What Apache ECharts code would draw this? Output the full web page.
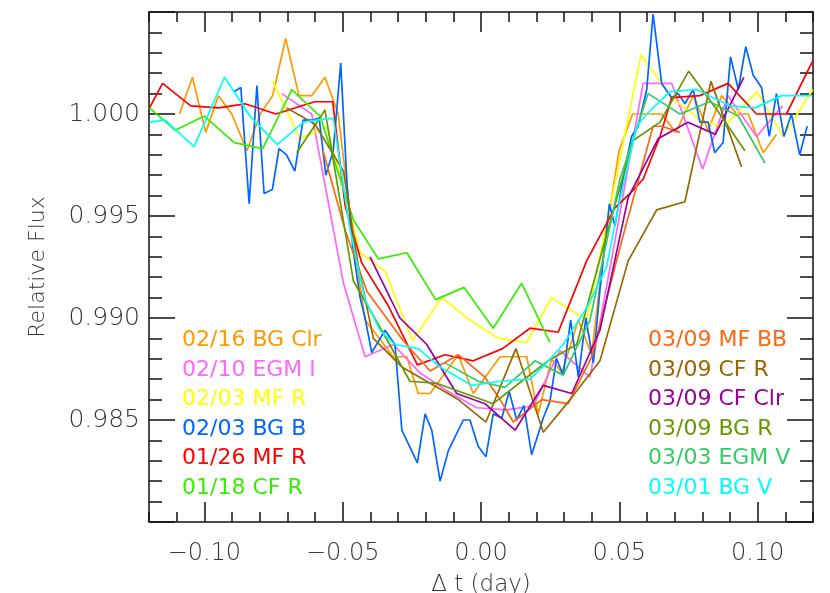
<!DOCTYPE html>
<html>
<head>
<meta charset="utf-8">
<script src="https://cdn.jsdelivr.net/npm/echarts@6/dist/echarts.min.js"></script>
<style>
  html, body { margin: 0; padding: 0; background: #fff; }
  #chart { width: 830px; height: 593px; }
</style>
</head>
<body>
<div id="chart"></div>
<script>
// light curves: [dt (day), relative flux]
const bgClr0216 = [[-0.1090, 1.0000], [-0.1043, 1.0018], [-0.0995, 0.9991], [-0.0949, 1.0009], [-0.0901, 1.0000], [-0.0846, 0.9982], [-0.0798, 1.0000], [-0.0753, 1.0009], [-0.0706, 1.0037], [-0.0658, 1.0009], [-0.0612, 1.0009], [-0.0564, 1.0018], [-0.0516, 1.0000], [-0.0466, 0.9943], [-0.0419, 0.9899], [-0.0317, 0.9881], [-0.0268, 0.9881], [-0.0227, 0.9863], [-0.0184, 0.9863], [-0.0082, 0.9882], [-0.0028, 0.9863], [0.0069, 0.9881], [0.0165, 0.9881], [0.0207, 0.9853], [0.0255, 0.9880], [0.0292, 0.9873], [0.0352, 0.9899], [0.0400, 0.9882], [0.0448, 0.9938], [0.0499, 0.9982], [0.0548, 1.0000], [0.0653, 1.0000], [0.0704, 0.9991], [0.0767, 1.0009], [0.0821, 0.9992], [0.0870, 1.0009], [0.0924, 1.0000], [0.0966, 1.0000], [0.1020, 0.9981], [0.1068, 0.9990]];
const egmI0210 = [[-0.0720, 1.0010], [-0.0612, 1.0000], [-0.0497, 0.9917], [-0.0419, 0.9881], [-0.0317, 0.9887], [-0.0220, 0.9873], [-0.0119, 0.9864], [-0.0016, 0.9856], [0.0093, 0.9855], [0.0189, 0.9857], [0.0285, 0.9884], [0.0394, 0.9871], [0.0491, 0.9943], [0.0586, 1.0015], [0.0689, 1.0015], [0.0801, 0.9973], [0.0893, 1.0009], [0.0996, 0.9989], [0.1090, 1.0004]];
const mfR0203 = [[-0.0753, 1.0016], [-0.0654, 0.9988], [-0.0557, 0.9994], [-0.0437, 0.9932], [-0.0347, 0.9923], [-0.0247, 0.9889], [-0.0142, 0.9910], [-0.0040, 0.9899], [0.0063, 0.9890], [0.0165, 0.9888], [0.0255, 0.9910], [0.0382, 0.9899], [0.0480, 0.9963], [0.0578, 1.0029], [0.0689, 1.0008], [0.0803, 0.9996], [0.0882, 0.9994], [0.0998, 1.0011], [0.1092, 0.9989], [0.1199, 1.0012]];
const bgB0203 = [[-0.0892, 1.0011], [-0.0868, 1.0013], [-0.0838, 0.9956], [-0.0810, 1.0014], [-0.0784, 0.9961], [-0.0754, 0.9963], [-0.0730, 0.9983], [-0.0703, 0.9980], [-0.0673, 0.9972], [-0.0643, 0.9997], [-0.0609, 0.9997], [-0.0585, 0.9998], [-0.0561, 0.9970], [-0.0534, 0.9982], [-0.0507, 1.0025], [-0.0484, 0.9965], [-0.0462, 0.9933], [-0.0437, 0.9910], [-0.0419, 0.9900], [-0.0395, 0.9883], [-0.0347, 0.9894], [-0.0311, 0.9887], [-0.0286, 0.9845], [-0.0230, 0.9829], [-0.0202, 0.9853], [-0.0178, 0.9845], [-0.0148, 0.9820], [-0.0118, 0.9835], [-0.0064, 0.9850], [-0.0040, 0.9850], [-0.0010, 0.9837], [0.0018, 0.9832], [0.0044, 0.9853], [0.0075, 0.9851], [0.0102, 0.9864], [0.0129, 0.9850], [0.0155, 0.9857], [0.0183, 0.9833], [0.0225, 0.9851], [0.0249, 0.9859], [0.0273, 0.9880], [0.0297, 0.9872], [0.0324, 0.9899], [0.0352, 0.9871], [0.0379, 0.9900], [0.0406, 0.9878], [0.0430, 0.9914], [0.0454, 0.9943], [0.0464, 0.9956], [0.0484, 0.9945], [0.0513, 0.9968], [0.0544, 0.9989], [0.0568, 0.9994], [0.0599, 1.0012], [0.0622, 1.0049], [0.0653, 1.0015], [0.0689, 1.0008], [0.0713, 1.0010], [0.0737, 1.0005], [0.0767, 1.0012], [0.0791, 0.9996], [0.0821, 0.9996], [0.0845, 0.9981], [0.0875, 0.9986], [0.0902, 1.0028], [0.0930, 1.0012], [0.0957, 1.0033], [0.0984, 1.0019], [0.1014, 1.0013], [0.1042, 0.9989], [0.1068, 1.0010], [0.1095, 0.9989], [0.1122, 1.0000], [0.1152, 0.9980], [0.1179, 0.9994]];
const mfR0126 = [[-0.1198, 1.0003], [-0.1151, 1.0015], [-0.1049, 1.0004], [-0.0949, 1.0003], [-0.0853, 1.0005], [-0.0741, 1.0000], [-0.0602, 1.0006], [-0.0536, 1.0006], [-0.0491, 0.9955], [-0.0431, 0.9927], [-0.0335, 0.9906], [-0.0230, 0.9877], [-0.0130, 0.9882], [-0.0028, 0.9879], [0.0078, 0.9885], [0.0177, 0.9895], [0.0279, 0.9893], [0.0382, 0.9928], [0.0484, 0.9954], [0.0538, 0.9961], [0.0586, 0.9968], [0.0647, 0.9989], [0.0689, 1.0008], [0.0791, 1.0009], [0.0893, 1.0015], [0.0996, 1.0000], [0.1104, 1.0000], [0.1199, 1.0026]];
const cfR0118 = [[-0.1198, 1.0003], [-0.1105, 0.9992], [-0.1000, 0.9999], [-0.0892, 0.9986], [-0.0789, 0.9983], [-0.0684, 1.0012], [-0.0582, 0.9999], [-0.0461, 0.9948], [-0.0371, 0.9929], [-0.0268, 0.9932], [-0.0164, 0.9909], [-0.0061, 0.9915], [0.0044, 0.9895], [0.0147, 0.9917], [0.0249, 0.9888]];
const mfBB0309 = [[-0.0571, 0.9982], [-0.0491, 0.9943], [-0.0412, 0.9913], [-0.0336, 0.9899], [-0.0282, 0.9889], [-0.0184, 0.9874], [-0.0082, 0.9882], [0.0014, 0.9871], [0.0069, 0.9860], [0.0117, 0.9849], [0.0219, 0.9860], [0.0315, 0.9858], [0.0400, 0.9881], [0.0509, 0.9938], [0.0622, 0.9994], [0.0653, 0.9994], [0.0719, 0.9991]];
const cfR0309 = [[-0.0702, 1.0003], [-0.0600, 0.9995], [-0.0497, 0.9972], [-0.0444, 0.9926], [-0.0389, 0.9890], [-0.0286, 0.9876], [-0.0184, 0.9868], [-0.0082, 0.9860], [0.0018, 0.9849], [0.0126, 0.9885], [0.0225, 0.9844], [0.0322, 0.9860], [0.0430, 0.9879], [0.0532, 0.9928], [0.0635, 0.9953], [0.0737, 0.9957], [0.0831, 1.0016], [0.0942, 0.9974]];
const cfClr0309 = [[-0.0401, 0.9930], [-0.0293, 0.9900], [-0.0196, 0.9887], [-0.0088, 0.9863], [0.0014, 0.9858], [0.0123, 0.9845], [0.0225, 0.9867], [0.0328, 0.9863], [0.0430, 0.9894], [0.0532, 0.9959], [0.0641, 0.9988], [0.0748, 0.9996], [0.0847, 0.9990], [0.0950, 1.0018]];
const bgR0309 = [[-0.0666, 0.9981], [-0.0564, 1.0002], [-0.0461, 0.9918], [-0.0359, 0.9894], [-0.0257, 0.9869], [-0.0160, 0.9868], [-0.0058, 0.9863], [0.0044, 0.9858], [0.0147, 0.9869], [0.0242, 0.9879], [0.0346, 0.9887], [0.0448, 0.9938], [0.0550, 0.9987], [0.0647, 0.9996], [0.0751, 1.0021], [0.0853, 1.0002], [0.0954, 0.9982]];
const egmV0303 = [[-0.0130, 0.9878], [-0.0010, 0.9869], [0.0087, 0.9866], [0.0195, 0.9879], [0.0297, 0.9872], [0.0394, 0.9899], [0.0502, 0.9968], [0.0604, 1.0010], [0.0719, 1.0000], [0.0827, 1.0006], [0.0930, 0.9999], [0.1026, 0.9976]];
const bgV0301 = [[-0.1198, 0.9996], [-0.1142, 0.9997], [-0.1037, 0.9984], [-0.0927, 1.0018], [-0.0835, 0.9999], [-0.0736, 0.9985], [-0.0642, 0.9996], [-0.0594, 0.9997], [-0.0534, 0.9998], [-0.0473, 0.9943], [-0.0419, 0.9909], [-0.0365, 0.9894], [-0.0311, 0.9887], [-0.0227, 0.9885], [-0.0148, 0.9876], [-0.0034, 0.9867], [0.0069, 0.9869], [0.0177, 0.9870], [0.0237, 0.9878], [0.0297, 0.9887], [0.0382, 0.9905], [0.0454, 0.9925], [0.0502, 0.9958], [0.0563, 0.9994], [0.0599, 1.0000], [0.0683, 1.0011], [0.0779, 1.0012], [0.0839, 1.0008], [0.0900, 1.0004], [0.0990, 1.0003], [0.1086, 1.0009], [0.1195, 1.0009]];

const seriesNames = ["02/16 BG Clr", "02/10 EGM I", "02/03 MF R", "02/03 BG B", "01/26 MF R", "01/18 CF R",
  "03/09 MF BB", "03/09 CF R", "03/09 CF Clr", "03/09 BG R", "03/03 EGM V", "03/01 BG V"];
const seriesData = [bgClr0216, egmI0210, mfR0203, bgB0203, mfR0126, cfR0118,
  mfBB0309, cfR0309, cfClr0309, bgR0309, egmV0303, bgV0301];
const colors = ["#ff9900", "#ff66ff", "#ffff00", "#0066ff", "#ff0000", "#33ee00",
  "#ff6611", "#996600", "#990099", "#669900", "#33cc66", "#00ffff"];

const xMajorTicks = [-0.10, -0.05, 0.00, 0.05, 0.10];

const font = "DejaVu Sans";
const textColor = "#333";
const axisColor = "#111";

const chart = echarts.init(document.getElementById("chart"), null, { renderer: "canvas" });

function xAxisBase(pos, major) {
  return {
    type: "value",
    position: pos,
    min: -0.12,
    max: 0.12,
    interval: 0.01,
    splitLine: { show: false },
    axisLine: { show: major, onZero: false, lineStyle: { color: axisColor, width: 1.5 } },
    axisTick: major
      ? { show: true, inside: true, length: 20, customValues: xMajorTicks, lineStyle: { color: axisColor, width: 1.5 } }
      : { show: true, inside: true, length: 10, lineStyle: { color: axisColor, width: 1.5 } },
    axisLabel: { show: false },
  };
}

const xBottom = xAxisBase("bottom", true);
xBottom.axisLabel = {
  show: true,
  customValues: xMajorTicks,
  margin: 20,
  color: textColor,
  fontFamily: font,
  fontWeight: 200,
  fontSize: 24,
  formatter: (v) => (v < 0 ? "\u2212" : "") + Math.abs(v).toFixed(2),
};
xBottom.name = "\u0394 t (day)";
xBottom.nameLocation = "middle";
xBottom.nameGap = 52;
xBottom.nameTextStyle = { color: textColor, fontFamily: font, fontWeight: 200, fontSize: 23 };

function yAxisBase(pos) {
  return {
    type: "value",
    position: pos,
    min: 0.98,
    max: 1.005,
    interval: 0.005,
    splitLine: { show: false },
    axisLine: { show: true, onZero: false, lineStyle: { color: axisColor, width: 1.5 } },
    axisTick: { show: true, inside: true, length: 26, lineStyle: { color: axisColor, width: 1.5 } },
    minorTick: { show: true, splitNumber: 5, length: 13, lineStyle: { color: axisColor, width: 1.5 } },
    axisLabel: { show: false },
  };
}

const yLeft = yAxisBase("left");
yLeft.axisLabel = {
  show: true,
  showMinLabel: false,
  showMaxLabel: false,
  margin: 9,
  color: textColor,
  fontFamily: font,
  fontWeight: 200,
  fontSize: 25,
  formatter: (v) => v.toFixed(3),
};
yLeft.name = "Relative Flux";
yLeft.nameLocation = "middle";
yLeft.nameGap = 100;
yLeft.nameTextStyle = { color: textColor, fontFamily: font, fontWeight: 200, fontSize: 22 };

function legendFor(names, left) {
  return {
    orient: "vertical",
    left: left,
    top: 323,
    icon: "none",
    itemWidth: 0,
    itemHeight: 0,
    itemGap: 5,
    selectedMode: false,
    textStyle: { fontFamily: font, fontSize: 22, lineHeight: 24.6 },
    data: names.map((n) => ({ name: n, textStyle: { color: colors[seriesNames.indexOf(n)] } })),
  };
}

chart.setOption({
  animation: false,
  backgroundColor: "#fff",
  grid: { left: 149, right: 17, top: 12, bottom: 71, outerBoundsMode: "none" },
  xAxis: [xBottom, xAxisBase("bottom", false), xAxisBase("top", true), xAxisBase("top", false)],
  yAxis: [yLeft, yAxisBase("right")],
  legend: [legendFor(seriesNames.slice(0, 6), 172), legendFor(seriesNames.slice(6), 638)],
  series: seriesNames.map((name, i) => ({
    name: name,
    type: "line",
    xAxisIndex: 0,
    yAxisIndex: 0,
    data: seriesData[i],
    showSymbol: false,
    color: colors[i],
    lineStyle: { width: 1.7, color: colors[i] },
    z: 2,
  })),
});
</script>
</body>
</html>
